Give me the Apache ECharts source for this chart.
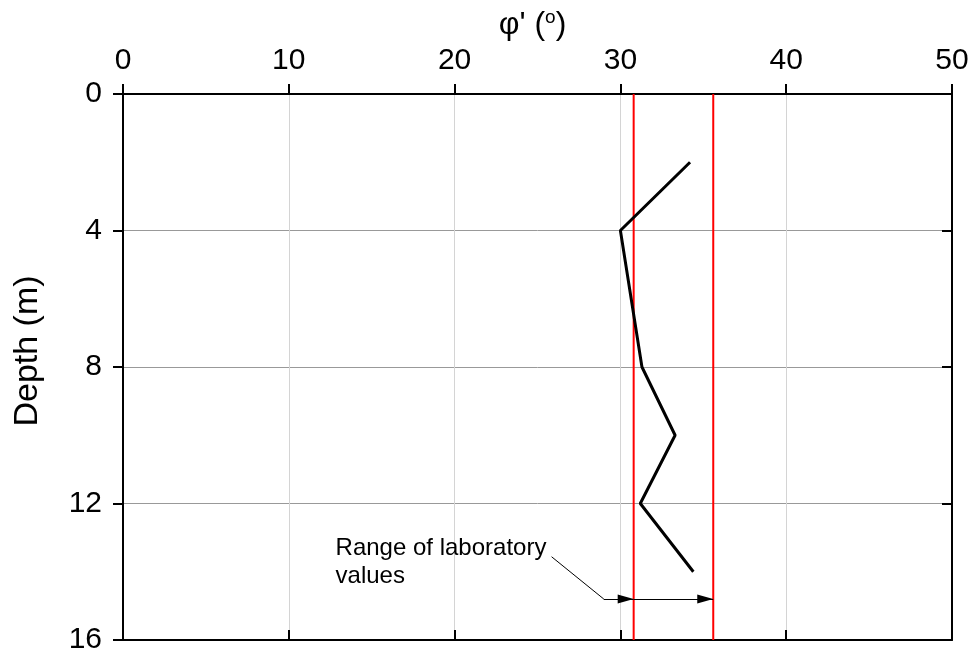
<!DOCTYPE html>
<html>
<head>
<meta charset="utf-8">
<script src="https://cdn.jsdelivr.net/npm/echarts@6/dist/echarts.min.js"></script>
<style>
  html, body { margin: 0; padding: 0; background: #fff; }
  #chart { width: 973px; height: 653px; }
</style>
</head>
<body>
<div id="chart"></div>
<script>
// measured profile
const depths = [2, 4, 8, 10, 12, 14];
const phiValues = [34.2, 30.0, 31.3, 33.3, 31.2, 34.4];
// laboratory range (red lines)
const labRange = [30.8, 35.6];
// annotation
const arrowDepth = 14.8;
const leaderFrom = [25.85, 13.56];
const leaderTo = [29.0, 14.8];
const noteText = 'Range of laboratory\nvalues';
// axes
const phiMin = 0, phiMax = 50, phiStep = 10;
const depthMin = 0, depthMax = 16, depthStep = 4;

const FONT = 'Liberation Sans, Arial, sans-serif';
// arrow head in a square box with the tip at the centre, so it stops on the end point
const ARROW = 'path://M0,0 M32,32 M16,16 L11.5,32 L20.5,32 Z';

var chart = echarts.init(document.getElementById('chart'));

var profile = phiValues.map(function (p, i) { return [p, depths[i]]; });

var redSeries = labRange.map(function (v) {
  return {
    type: 'line',
    xAxisIndex: 0,
    yAxisIndex: 0,
    data: [[v, depthMin], [v, depthMax]],
    symbol: 'none',
    lineStyle: { color: '#ff0000', width: 2 },
    silent: true,
    z: 3
  };
});

var option = {
  animation: false,
  backgroundColor: '#fff',
  grid: {
    left: 123, right: 21, top: 94, bottom: 13,
    containLabel: false,
    outerBoundsMode: 'none'
  },
  xAxis: [
    {
      type: 'value',
      position: 'top',
      min: phiMin, max: phiMax, interval: phiStep,
      name: '{a|φ\' (}{s|o}{a|)}',
      nameLocation: 'middle',
      nameGap: 48,
      nameTextStyle: {
        padding: [0, 10, 0, 0],
        rich: {
          a: { fontFamily: FONT, fontSize: 32, color: '#000' },
          s: { fontFamily: FONT, fontSize: 19, color: '#000', verticalAlign: 'top', padding: [0, 0, 14, 0] }
        }
      },
      axisLine: { show: true, onZero: false, lineStyle: { color: '#000', width: 2 } },
      axisTick: { show: true, inside: false, length: 10, lineStyle: { color: '#000', width: 2 } },
      axisLabel: { fontFamily: FONT, fontSize: 30, color: '#000', margin: 18 },
      splitLine: { show: true, lineStyle: { color: '#d4d4d4', width: 1 } }
    },
    {
      type: 'value',
      position: 'bottom',
      min: phiMin, max: phiMax, interval: phiStep,
      axisLine: { show: true, onZero: false, lineStyle: { color: '#000', width: 2 } },
      axisTick: { show: true, inside: true, length: 10, lineStyle: { color: '#000', width: 2 } },
      axisLabel: { show: false },
      splitLine: { show: false }
    }
  ],
  yAxis: [
    {
      type: 'value',
      position: 'left',
      inverse: true,
      min: depthMin, max: depthMax, interval: depthStep,
      name: 'Depth (m)',
      nameLocation: 'middle',
      nameGap: 78,
      nameTextStyle: { fontFamily: FONT, fontSize: 34, color: '#000', padding: [0, 0, 0, 32] },
      axisLine: { show: true, onZero: false, lineStyle: { color: '#000', width: 2 } },
      axisTick: { show: true, inside: false, length: 10, lineStyle: { color: '#000', width: 2 } },
      axisLabel: { fontFamily: FONT, fontSize: 30, color: '#000', margin: 21 },
      splitLine: { show: true, lineStyle: { color: '#999', width: 1 } }
    },
    {
      type: 'value',
      position: 'right',
      inverse: true,
      min: depthMin, max: depthMax, interval: depthStep,
      axisLine: { show: true, onZero: false, lineStyle: { color: '#000', width: 2 } },
      axisTick: { show: true, inside: true, length: 10, lineStyle: { color: '#000', width: 2 } },
      axisLabel: { show: false },
      splitLine: { show: false }
    }
  ],
  series: [
    {
      type: 'line',
      xAxisIndex: 0,
      yAxisIndex: 0,
      data: profile,
      symbol: 'none',
      lineStyle: { color: '#000', width: 3 },
      z: 4
    }
  ].concat(redSeries).concat([
    {
      type: 'lines',
      coordinateSystem: 'cartesian2d',
      xAxisIndex: 0,
      yAxisIndex: 0,
      symbol: ['none', 'none'],
      lineStyle: { color: '#000', width: 1, opacity: 1 },
      data: [{ coords: [leaderFrom, leaderTo] }],
      silent: true,
      z: 5
    },
    {
      type: 'lines',
      coordinateSystem: 'cartesian2d',
      xAxisIndex: 0,
      yAxisIndex: 0,
      symbol: ['none', ARROW],
      symbolSize: 32,
      lineStyle: { color: '#000', width: 1, opacity: 1 },
      itemStyle: { color: '#000' },
      data: [
        { coords: [leaderTo, [labRange[0], arrowDepth]] },
        { coords: [[labRange[0], arrowDepth], [labRange[1], arrowDepth]] }
      ],
      silent: true,
      z: 5
    },
    {
      type: 'scatter',
      xAxisIndex: 0,
      yAxisIndex: 0,
      data: [[leaderFrom[0], leaderFrom[1]]],
      symbolSize: 0,
      silent: true,
      itemStyle: { opacity: 1 },
      label: {
        show: true,
        position: 'left',
        distance: 0,
        formatter: noteText,
        align: 'left',
        offset: [-216, 6],
        fontFamily: FONT,
        fontSize: 24,
        lineHeight: 28,
        color: '#000',
        opacity: 1
      }
    }
  ])
};

chart.setOption(option);
</script>
</body>
</html>
